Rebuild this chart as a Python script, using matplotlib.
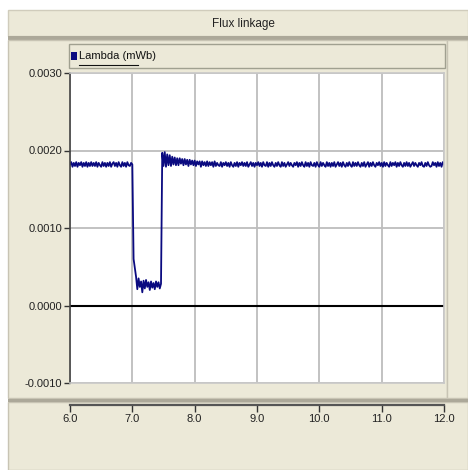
import numpy as np
import matplotlib
matplotlib.use('Agg')
import matplotlib.pyplot as plt
from matplotlib.patches import Rectangle
from matplotlib.lines import Line2D
from matplotlib import font_manager

names = set(f.name for f in font_manager.fontManager.ttflist)
fams = [n for n in ['Liberation Sans Narrow', 'DejaVu Sans Condensed', 'Arial Narrow'] if n in names]
plt.rcParams['font.family'] = fams + ['Liberation Sans', 'DejaVu Sans']

# flux linkage trace, sampled every 0.02 s from 6.0 s, values in 1e-5 Wb
t_start = 6.0
t_step = 0.02
lam_e5 = [
    182, 185, 179, 184, 180, 185, 179, 184, 181, 185,
    179, 184, 180, 185, 179, 184, 180, 185, 180, 184,
    180, 185, 179, 184, 181, 179, 185, 180, 184, 179,
    184, 180, 185, 179, 183, 185, 180, 184, 179, 185,
    181, 179, 185, 180, 184, 179, 185, 181, 180, 184,
    182, 60, 48, 37, 21, 35, 24, 31, 17, 32,
    22, 33, 24, 30, 20, 31, 23, 29, 21, 31,
    24, 30, 22, 28, 197, 180, 198, 179, 195, 181,
    194, 180, 192, 182, 191, 181, 190, 181, 190, 183,
    189, 181, 189, 182, 188, 180, 188, 182, 187, 181,
    187, 180, 186, 182, 186, 179, 186, 181, 185, 180,
    186, 180, 185, 181, 185, 179, 186, 180, 184, 181,
    180, 185, 179, 184, 181, 185, 180, 184, 179, 185,
    181, 179, 184, 180, 185, 179, 184, 181, 185, 180,
    184, 180, 185, 179, 182, 185, 180, 184, 179, 184,
    181, 185, 180, 184, 179, 185, 181, 180, 185, 179,
    184, 180, 185, 181, 179, 184, 180, 185, 181, 179,
    185, 180, 184, 179, 182, 185, 180, 184, 181, 179,
    184, 181, 185, 179, 184, 180, 185, 181, 179, 185,
    180, 184, 179, 185, 181, 180, 184, 179, 185, 181,
    179, 185, 180, 184, 181, 179, 185, 180, 184, 179,
    184, 180, 185, 179, 182, 185, 180, 184, 179, 185,
    181, 179, 184, 180, 185, 181, 179, 185, 180, 184,
    180, 185, 181, 179, 184, 180, 185, 179, 182, 185,
    179, 184, 180, 185, 181, 179, 184, 181, 185, 180,
    184, 179, 185, 180, 184, 181, 179, 185, 180, 184,
    181, 185, 179, 184, 180, 185, 181, 179, 184, 180,
    185, 180, 184, 179, 182, 185, 180, 184, 181, 179,
    184, 181, 185, 180, 179, 184, 180, 185, 181, 179,
    180, 185, 181, 184, 179, 185, 180, 184, 179, 185,
    182,
]
lam = np.array(lam_e5) * 1e-5
t = t_start + t_step * np.arange(len(lam))

xticks = [6.0, 7.0, 8.0, 9.0, 10.0, 11.0, 12.0]
yticks = [-0.0010, 0.0000, 0.0010, 0.0020, 0.0030]
title = 'Flux linkage'
series_name = 'Lambda (mWb)'

W, H = 468, 470
BEIGE = '#ECE9D8'
DARK = '#ACA899'
NAVY = '#0A0A80'


def fx(px):
    return px / W


def fy(py):
    return 1 - py / H


def box(x0, y0, x1, y1, fc, ec='none', lw=1):
    # rectangle in pixel coords (top-left origin), drawn behind the axes
    r = Rectangle((fx(x0), fy(y1)), (x1 - x0) / W, (y1 - y0) / H, transform=fig.transFigure,
                  facecolor=fc, edgecolor=ec, lw=lw, zorder=-5)
    fig.patches.append(r)


fig = plt.figure(figsize=(W / 100, H / 100), dpi=100)
fig.patch.set_facecolor('white')

# window chrome
box(8, 10, 468, 36, BEIGE, '#D0CCBC')
box(8, 36, 468, 40, DARK)
box(8, 40, 447, 398, BEIGE, '#C8C4B4')
box(447, 40, 468, 398, BEIGE, '#C8C4B4')
box(8, 402, 468, 470, BEIGE, '#C8C4B4')
box(8, 399, 468, 402, DARK)
fig.text(fx(243), fy(24), title, ha='center', va='center', fontsize=8.5, color='#222222')

# legend strip
box(69, 44, 445, 68, BEIGE, '#A0A090')
box(71, 52, 77, 60, NAVY)
fig.text(fx(79), fy(56), series_name, ha='left', va='center', fontsize=8, color='#111111')
fig.lines.append(Line2D([fx(79), fx(138)], [fy(64.5), fy(64.5)], transform=fig.transFigure,
                        color='#111111', lw=0.8))

# main plot
ax = fig.add_axes([fx(70), fy(383), fx(374), 310 / H])
ax.set_facecolor('white')
ax.plot(t, lam, color=NAVY, lw=1.3)
ax.axhline(0, color='black', lw=1.5, zorder=1)
ax.set_xlim(6, 12)
ax.set_ylim(-0.001, 0.003)
ax.set_xticks(xticks)
ax.set_yticks(yticks)
ax.set_xticklabels([])
ax.set_yticklabels(['%.4f' % v for v in yticks], fontsize=8, color='#222222')
ax.tick_params(axis='y', direction='out', length=4, width=1, color='#333333', pad=1.5)
ax.tick_params(axis='x', length=0)
ax.grid(True, color='#BDBDBD', lw=1.3, zorder=0)
ax.set_axisbelow(True)
for s in ['top', 'right', 'bottom']:
    ax.spines[s].set_color('#C8C8C8')
    ax.spines[s].set_linewidth(1.2)
ax.spines['left'].set_color('#444444')
ax.spines['left'].set_linewidth(1.2)

# separate time axis below
ax2 = fig.add_axes([fx(70), fy(405), fx(374), 0.0001])
ax2.set_xlim(6, 12)
ax2.set_xticks(xticks)
ax2.set_xticklabels(['%.1f' % v for v in xticks], fontsize=8, color='#222222')
ax2.set_yticks([])
ax2.patch.set_visible(False)
for s in ['top', 'left', 'right']:
    ax2.spines[s].set_visible(False)
ax2.spines['bottom'].set_color('#555555')
ax2.spines['bottom'].set_linewidth(1.6)
ax2.tick_params(axis='x', direction='out', length=5, width=1, color='#333333', pad=1.5)

fig.savefig('out.png', dpi=100)
